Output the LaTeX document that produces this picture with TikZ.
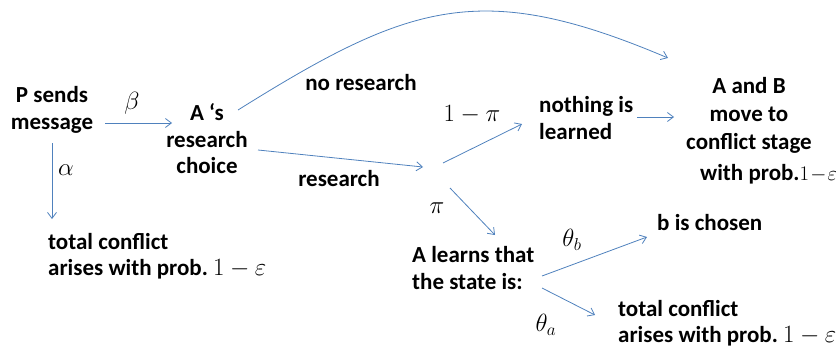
\documentclass[tikz,border=0pt]{standalone}
\usepackage{fontspec}
\setmainfont{Carlito}
\usetikzlibrary{arrows.meta, positioning}
\definecolor{arrblue}{RGB}{79,129,189}
\tikzset{
  lbl/.style={font=\bfseries\fontsize{23}{26.5}\selectfont, inner sep=0pt},
  prob/.style={font=\fontsize{27}{30}\selectfont, inner sep=0pt},
  arr/.style={draw=arrblue, line width=0.8pt, -{Straight Barb[length=6pt,width=9pt]}}
}
\newcommand{\oneeps}{{\fontsize{23}{26}\selectfont$1-\varepsilon$}}
\begin{document}
\begin{tikzpicture}[x=1pt, y=-1pt]
  \useasboundingbox (0,0) rectangle (836,348);

  % Stages of the game
  \node[lbl, align=center] (psend)   at (52,110)  {P sends\\message};
  \node[lbl, align=center] (achoice) at (207,139) {A ‘s\\research\\choice};
  \node[lbl, align=left, anchor=west] (tcp) at (48,256)
    {total conflict\\arises with prob.\ \oneeps};
  \node[lbl, align=left, anchor=west] (nothing) at (539,118) {nothing is\\learned};
  \node[lbl, align=center, font=\bfseries\fontsize{23}{28}\selectfont]
    (abmove) at (749,115) {A and B\\move to\\conflict stage};
  \node[lbl, anchor=base west] (abprob) at (700,180)
    {with prob.{\fontsize{21}{24}\selectfont$1\!-\!\varepsilon$}};
  \node[lbl, align=left, anchor=west] (alearn) at (412,268) {A learns that\\the state is:};
  \node[lbl, anchor=west] (bchosen) at (657,223) {b is chosen};
  \node[lbl, align=left, anchor=west] (tca) at (618,323)
    {total conflict\\arises with prob.\ \oneeps};

  % Choice labels
  \node[lbl] (nores) at (361,83)  {no research};
  \node[lbl] (res)   at (339,179) {research};

  % Probabilities
  \node[prob] (pbeta)  at (132,103) {$\beta$};
  \node[prob] (palpha) at (66,170)  {$\alpha$};
  \node[prob] (pnot)   at (472,115) {$1-\pi$};
  \node[prob] (ppi)    at (437,208) {$\pi$};
  \node[prob] (pthb)   at (572,240) {$\theta_b$};
  \node[prob] (ptha)   at (546,325) {$\theta_a$};

  % Arrow end points
  \coordinate (b0) at (105,123);  \coordinate (b1) at (172,123);
  \coordinate (a0) at (52,143);   \coordinate (a1) at (52,219);
  \coordinate (n0) at (238,110);  \coordinate (n1) at (668,58);
  \coordinate (r0) at (258,150);  \coordinate (r1) at (423,167);
  \coordinate (q0) at (443,163);  \coordinate (q1) at (522,124);
  \coordinate (m0) at (637,117);  \coordinate (m1) at (674,117);
  \coordinate (s0) at (450,188);  \coordinate (s1) at (495,235);
  \coordinate (t0) at (542,276);  \coordinate (t1) at (647,237);
  \coordinate (u0) at (542,288);  \coordinate (u1) at (595,315);

  \draw[arr] (b0) -- (b1);
  \draw[arr] (a0) -- (a1);
  \draw[arr] (n0) to[out=32, in=157, looseness=1.2] (n1);
  \draw[arr] (r0) -- (r1);
  \draw[arr] (q0) -- (q1);
  \draw[arr] (m0) -- (m1);
  \draw[arr] (s0) -- (s1);
  \draw[arr] (t0) -- (t1);
  \draw[arr] (u0) -- (u1);
\end{tikzpicture}
\end{document}
